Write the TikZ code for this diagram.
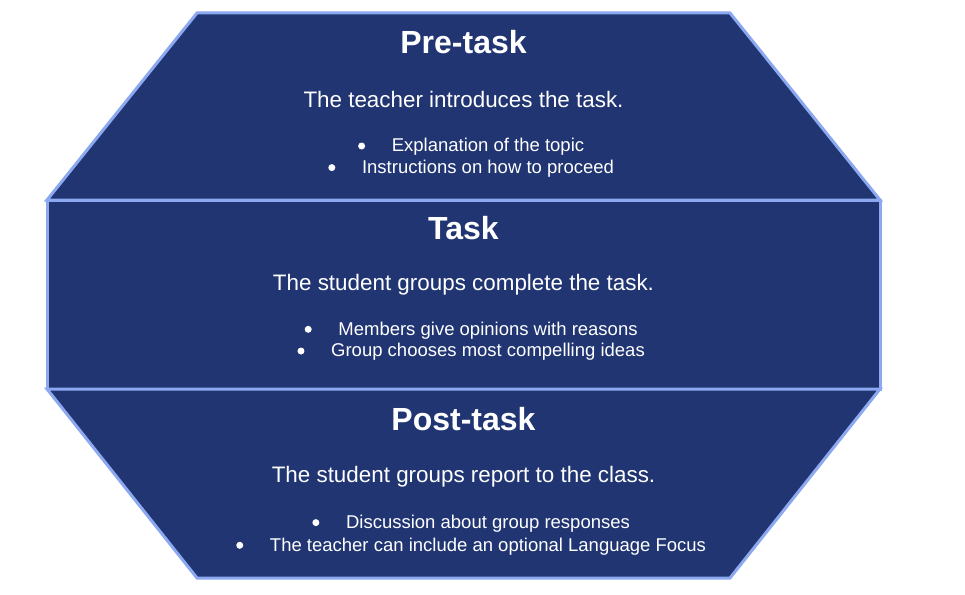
\documentclass[tikz,border=0pt]{standalone}
\usepackage{fontspec}
\setmainfont{Liberation Sans}
\usetikzlibrary{calc}
\definecolor{stagefill}{RGB}{32,53,114}
\definecolor{stageline}{RGB}{140,168,240}
\tikzset{
  stage/.style={draw=stageline, fill=stagefill, line width=3pt, line join=miter},
  titletext/.style={text=white, inner sep=0pt, anchor=base, font=\fontsize{32}{38}\selectfont\bfseries},
  bodytext/.style={text=white, inner sep=0pt, anchor=base, font=\fontsize{22.4}{27}\selectfont},
  itemtext/.style={text=white, inner sep=0pt, anchor=base, font=\fontsize{18.5}{22}\selectfont},
  dot/.style={circle, fill=white, inner sep=0pt, minimum size=7pt}
}
\begin{document}
\begin{tikzpicture}[x=1pt,y=-1pt]
\useasboundingbox (0,0) rectangle (965,594);
% stages
\draw[stage] (197,13) -- (730,13) -- (880,200) -- (47,200) -- cycle;
\draw[stage] (47,200) rectangle (880,389);
\draw[stage] (47,389) -- (880,389) -- (730,578) -- (197,578) -- cycle;
% Pre-task
\node[titletext] (t1) at (463.5,53.3) {Pre-task};
\node[bodytext] (b1) at (463.5,107.3) {The teacher introduces the task.};
\node[itemtext] (i11) at (488,151.7) {Explanation of the topic};
\node[itemtext] (i12) at (488,173.3) {Instructions on how to proceed};
\node[dot] (d11) at ([xshift=-30pt,yshift=5.7pt]i11.base west) {};
\node[dot] (d12) at ([xshift=-30pt,yshift=5.7pt]i12.base west) {};
% Task
\node[titletext] (t2) at (463.5,239.3) {Task};
\node[bodytext] (b2) at (463.5,290) {The student groups complete the task.};
\node[itemtext] (i21) at (488,335) {Members give opinions with reasons};
\node[itemtext] (i22) at (488,356.7) {Group chooses most compelling ideas};
\node[dot] (d21) at ([xshift=-30pt,yshift=5.7pt]i21.base west) {};
\node[dot] (d22) at ([xshift=-30pt,yshift=5.7pt]i22.base west) {};
% Post-task
\node[titletext] (t3) at (463.5,430) {Post-task};
\node[bodytext] (b3) at (463.5,482.3) {The student groups report to the class.};
\node[itemtext] (i31) at (488,528.3) {Discussion about group responses};
\node[itemtext] (i32) at (488,551) {The teacher can include an optional Language Focus};
\node[dot] (d31) at ([xshift=-30pt,yshift=5.7pt]i31.base west) {};
\node[dot] (d32) at ([xshift=-30pt,yshift=5.7pt]i32.base west) {};
\end{tikzpicture}
\end{document}
